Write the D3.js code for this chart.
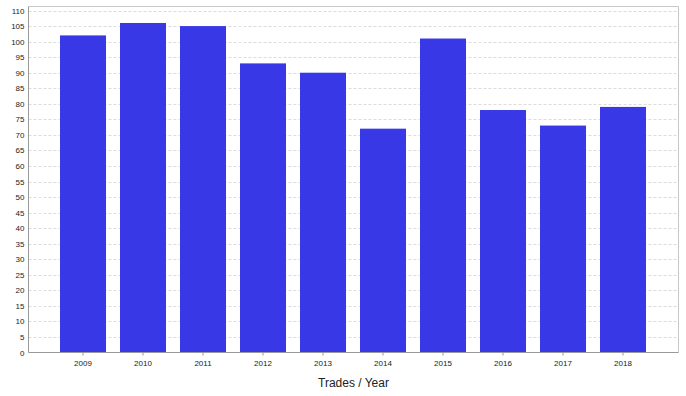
<!DOCTYPE html>
<html>
<head>
<meta charset="utf-8">
<script src="https://cdn.jsdelivr.net/npm/d3@7"></script>
<style>
  body { margin: 0; background: #fff; }
  text { font-family: "Liberation Sans", Arial, sans-serif; }
</style>
</head>
<body>
<div id="chart"></div>
<script>
// Data
const years = ['2009', '2010', '2011', '2012', '2013', '2014', '2015', '2016', '2017', '2018']
const trades = [102, 106, 105, 93, 90, 72, 101, 78, 73, 79]
const yTicks = d3.range(0, 111, 5)

const width = 686
const height = 396
const plot = { left: 28.5, right: 678.5, top: 6.5, bottom: 352.5 }

const svg = d3.select('#chart')
  .append('svg')
    .attr('width', width)
    .attr('height', height)

const x = d3.scaleBand()
  .domain(years)
  .range([plot.left + 24.5, plot.right - 25.5])
  .paddingInner(14 / 60)
  .paddingOuter(7 / 60)

const y = d3.scaleLinear()
  .domain([0, 111.3])
  .range([plot.bottom, plot.top])

// Grid lines
svg.append('g')
  .selectAll('line')
  .data(yTicks.filter(d => d > 0))
  .enter()
  .append('line')
    .attr('x1', plot.left)
    .attr('x2', plot.right)
    .attr('y1', d => Math.round(y(d)) + 0.5)
    .attr('y2', d => Math.round(y(d)) + 0.5)
    .attr('stroke', '#dcdcdc')
    .attr('stroke-dasharray', '3,2')

// Frame (top / right)
svg.append('path')
  .attr('d', `M${plot.left},${plot.top}H${plot.right}V${plot.bottom}`)
  .attr('fill', 'none')
  .attr('stroke', '#c8c8c8')

// Bars
svg.append('g')
  .selectAll('rect')
  .data(trades)
  .enter()
  .append('rect')
    .attr('x', (d, i) => Math.round(x(years[i])))
    .attr('y', d => y(d))
    .attr('width', Math.round(x.bandwidth()))
    .attr('height', d => plot.bottom - y(d))
    .attr('fill', '#3838e6')

// Y axis
const yAxis = svg.append('g')
  .attr('transform', `translate(${plot.left},0)`)
  .call(d3.axisLeft(y).tickValues(yTicks).tickSize(0).tickPadding(4))
yAxis.select('.domain').attr('stroke', '#999').attr('d', `M0,${plot.top}V${plot.bottom}`)
yAxis.selectAll('.tick text')
  .attr('font-size', 8)
  .attr('fill', '#222')
  .style('font-family', '"Liberation Sans", Arial, sans-serif')

// X axis
const xAxis = svg.append('g')
  .attr('transform', `translate(0,${plot.bottom})`)
  .call(d3.axisBottom(x).tickSize(3).tickPadding(5).tickSizeOuter(0))
xAxis.select('.domain').attr('stroke', '#999').attr('d', `M${plot.left},0H${plot.right}`)
xAxis.selectAll('.tick line').attr('stroke', '#999')
xAxis.selectAll('.tick text')
  .attr('font-size', 8)
  .attr('fill', '#222')
  .style('font-family', '"Liberation Sans", Arial, sans-serif')

// Axis title
svg.append('text')
  .attr('x', (plot.left + plot.right) / 2)
  .attr('y', 387)
  .attr('text-anchor', 'middle')
  .attr('font-size', 12)
  .attr('fill', '#222')
  .text('Trades / Year')
</script>
</body>
</html>
